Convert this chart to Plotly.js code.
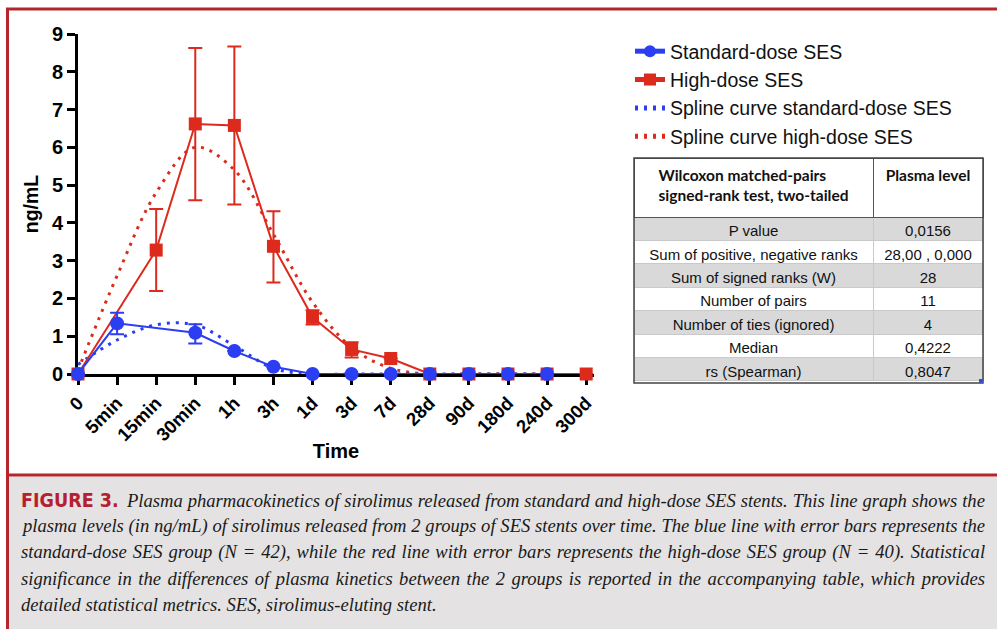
<!DOCTYPE html>
<html>
<head>
<meta charset="utf-8">
<script src="https://cdn.plot.ly/plotly-3.0.1.min.js"></script>
<style>html,body{margin:0;padding:0;background:#fff;}#chart{width:997px;height:629px;}</style>
</head>
<body>
<div id="chart"></div>
<script>
// ---- data ----
const timeLabels = ['0','5min','15min','30min','1h','3h','1d','3d','7d','28d','90d','180d','240d','300d'];

const standardDose      = [0, 1.34, null, 1.09, 0.61, 0.19, 0, 0, 0, 0, 0, 0, 0, null];
const standardDoseUpper = [null, 1.62, null, 1.32, null, null, null, null, null, null, null, null, null, null];
const standardDoseLower = [null, 1.05, null, 0.81, null, null, null, null, null, null, null, null, null, null];

const highDose      = [0, null, 3.28, 6.62, 6.58, 3.38, 1.50, 0.65, 0.41, 0, 0, 0, 0, 0];
const highDoseUpper = [null, null, 4.37, 8.63, 8.67, 4.31, 1.69, 0.84, null, null, null, null, null, null];
const highDoseLower = [null, null, 2.20, 4.60, 4.49, 2.42, 1.31, 0.44, null, null, null, null, null, null];

const splineLabels   = ['0','5min','15min','30min','1h','3h','1d','3d','7d','28d','90d','180d','240d'];
const splineStandard = [0.25, 0.90, 1.30, 1.30, 0.75, 0.15, 0, 0, 0, 0, 0, 0, 0];
const splineHigh     = [0.10, 2.60, 4.80, 6.00, 5.40, 3.70, 1.90, 0.70, 0.15, 0, 0, 0, 0];

const tableHeader = ['Wilcoxon matched-pairs<br>signed-rank test, two-tailed', 'Plasma level'];
const tableStats  = ['P value', 'Sum of positive, negative ranks', 'Sum of signed ranks (W)', 'Number of pairs', 'Number of ties (ignored)', 'Median', 'rs (Spearman)'];
const tableValues = ['0,0156', '28,00 , 0,000', '28', '11', '4', '0,4222', '0,8047'];

const captionLines = [
  "Plasma pharmacokinetics of sirolimus released from standard and high-dose SES stents. This line graph shows the",
  "plasma levels (in ng/mL) of sirolimus released from 2 groups of SES stents over time. The blue line with error bars represents the",
  "standard-dose SES group (N = 42), while the red line with error bars represents the high-dose SES group (N = 40). Statistical",
  "significance in the differences of plasma kinetics between the 2 groups is reported in the accompanying table, which provides",
  "detailed statistical metrics. SES, sirolimus-eluting stent."
];

// ---- helpers ----
const W = 997, H = 629;
const px = x => x / W;
const py = y => 1 - y / H;
const plus  = (v, up) => up.map((u, i) => u == null || v[i] == null ? 0 : +(u - v[i]).toFixed(3));
const minus = (v, lo) => lo.map((l, i) => l == null || v[i] == null ? 0 : +(v[i] - l).toFixed(3));

const RED = '#dc2a1c', BLUE = '#2b3ef2', FRAME = '#b5262c';
const SANS = '"Liberation Sans", Arial, Helvetica, sans-serif';

const traces = [
  { type: 'scatter', mode: 'lines', name: 'Spline curve high-dose SES', legendrank: 4, legendgroup: 'd',
    x: splineLabels, y: splineHigh, line: { color: RED, width: 3, dash: '3px,6px', shape: 'spline', smoothing: 1 },
    hoverinfo: 'skip', cliponaxis: false },
  { type: 'scatter', mode: 'lines', name: 'Spline curve standard-dose SES', legendrank: 3, legendgroup: 'c',
    x: splineLabels, y: splineStandard, line: { color: BLUE, width: 3, dash: '3px,6px', shape: 'spline', smoothing: 1 },
    hoverinfo: 'skip', cliponaxis: false },
  { type: 'scatter', mode: 'lines+markers', name: 'High-dose SES', legendrank: 2, legendgroup: 'b',
    x: timeLabels, y: highDose, connectgaps: true, cliponaxis: false,
    line: { color: RED, width: 2 }, marker: { symbol: 'square', size: 13, color: RED },
    error_y: { type: 'data', symmetric: false, array: plus(highDose, highDoseUpper), arrayminus: minus(highDose, highDoseLower),
               color: RED, thickness: 2, width: 7 } },
  { type: 'scatter', mode: 'lines+markers', name: 'Standard-dose SES', legendrank: 1, legendgroup: 'a',
    x: timeLabels, y: standardDose, connectgaps: true, cliponaxis: false,
    line: { color: BLUE, width: 2 }, marker: { symbol: 'circle', size: 14, color: BLUE },
    error_y: { type: 'data', symmetric: false, array: plus(standardDose, standardDoseUpper), arrayminus: minus(standardDose, standardDoseLower),
               color: BLUE, thickness: 2, width: 7 } },
  { type: 'table', showlegend: false,
    domain: { x: [px(634), px(983)], y: [py(383), py(158)] },
    columnwidth: [239, 110],
    header: { values: tableHeader.map(h => '<b>' + h + '</b>'), height: 59, align: 'center',
              font: { family: 'Lato, "Open Sans", sans-serif', size: 15.5, color: '#111' },
              fill: { color: '#ffffff' }, line: { color: '#555', width: 1 } },
    cells: { values: [tableStats, tableValues], height: 23.4, align: 'center',
             font: { family: SANS, size: 15, color: '#111' },
             fill: { color: [tableStats.map((_, i) => i % 2 === 0 ? '#d9d9d9' : '#ffffff'),
                             tableValues.map((_, i) => i % 2 === 0 ? '#d9d9d9' : '#ffffff')] },
             line: { color: '#c9c9c9', width: 1 } } }
];

const captionAnn = captionLines.map((t, i) => ({
  xref: 'paper', yref: 'paper', x: px(i === 0 ? 124 : 19), y: py(500 + i * 26), xanchor: 'left', yanchor: 'middle',
  showarrow: false, align: 'left',
  text: '<i>' + t + '</i>',
  font: { family: '"Liberation Serif", "DejaVu Serif", serif', size: 18.6, color: '#1a1a1a' }
}));
captionAnn.push({
  xref: 'paper', yref: 'paper', x: px(19), y: py(500), xanchor: 'left', yanchor: 'middle', showarrow: false,
  text: '<b>FIGURE 3.</b>',
  font: { family: '"Liberation Sans Narrow", "DejaVu Sans Condensed", "Liberation Sans", sans-serif', size: 19.5, color: '#b5202e' }
});

const layout = {
  width: W, height: H,
  margin: { l: 0, r: 0, t: 0, b: 0 },
  paper_bgcolor: '#ffffff', plot_bgcolor: 'rgba(0,0,0,0)',
  font: { family: SANS, color: '#000' },
  showlegend: true,
  legend: { x: px(630), y: py(32), xanchor: 'left', yanchor: 'top', bgcolor: 'rgba(0,0,0,0)',
            font: { family: SANS, size: 19.5, color: '#111' }, traceorder: 'grouped', itemsizing: 'constant',
            tracegroupgap: 0 },
  xaxis: {
    domain: [px(78), px(594)], anchor: 'y', type: 'category', categoryarray: timeLabels, categoryorder: 'array',
    range: [0, 13.2], showgrid: false, zeroline: false, showline: true, linecolor: '#000', linewidth: 3,
    ticks: 'outside', ticklen: 8, tickwidth: 3, tickcolor: '#000', tickangle: -45,
    tickfont: { family: SANS, size: 18.5, color: '#000', weight: 'bold' },
    title: { text: '<b>Time</b>', font: { family: SANS, size: 20, color: '#000' }, standoff: 0 },
    layer: 'below traces', fixedrange: true, automargin: false
  },
  yaxis: {
    domain: [py(374), py(34)], anchor: 'x', range: [0, 9], dtick: 1, showgrid: false, zeroline: false,
    showline: true, linecolor: '#000', linewidth: 3, ticks: 'outside', ticklen: 8, tickwidth: 3, tickcolor: '#000',
    tickfont: { family: SANS, size: 20, color: '#000', weight: 'bold' },
    title: { text: '<b>ng/mL</b>', font: { family: SANS, size: 19.5, color: '#000' }, standoff: 9 },
    layer: 'below traces', fixedrange: true, automargin: false
  },
  shapes: [
    { type: 'rect', xref: 'paper', yref: 'paper', x0: px(8), x1: px(997), y0: py(629), y1: py(476.5), fillcolor: '#e4e2e2', line: { width: 0 }, layer: 'below' },
    { type: 'line', xref: 'paper', yref: 'paper', x0: px(6), x1: px(997), y0: py(9), y1: py(9), line: { color: FRAME, width: 3 } },
    { type: 'line', xref: 'paper', yref: 'paper', x0: px(7.5), x1: px(7.5), y0: py(8), y1: py(629), line: { color: FRAME, width: 3 } },
    { type: 'line', xref: 'paper', yref: 'paper', x0: px(6), x1: px(997), y0: py(475), y1: py(475), line: { color: FRAME, width: 3 } },
    { type: 'rect', xref: 'paper', yref: 'paper', x0: px(634), x1: px(983), y0: py(383), y1: py(158), line: { color: '#444', width: 1.5 }, fillcolor: 'rgba(0,0,0,0)' },
    { type: 'rect', xref: 'paper', yref: 'paper', x0: px(979), x1: px(983), y0: py(383), y1: py(379), line: { width: 0 }, fillcolor: '#3a4fc4' }
  ],
  annotations: captionAnn
};

Plotly.newPlot('chart', traces, layout, { staticPlot: true, displayModeBar: false }).then(gd => {
  // justify the first four caption lines to the right edge of the caption box, as in the printed figure
  const host = gd.getBoundingClientRect();
  const texts = gd.querySelectorAll('.annotation-text');
  const rightEdge = 985;
  for (let i = 0; i < 4 && i < texts.length; i++) {
    const el = texts[i];
    const r = el.getBoundingClientRect();
    const spaces = (el.textContent.match(/ /g) || []).length;
    const extra = rightEdge - (r.right - host.left);
    if (spaces > 0 && extra > 0) el.style.wordSpacing = (extra / spaces).toFixed(2) + 'px';
  }
});
</script>
</body>
</html>
